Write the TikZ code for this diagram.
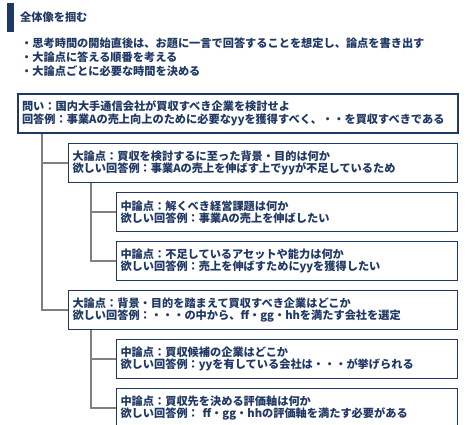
\documentclass[tikz,border=0pt]{standalone}
\usepackage{xcolor}
\usepackage{fontspec}
\setmainfont{Noto Sans CJK JP}
\usepackage{tikz}
\usetikzlibrary{positioning,calc}
\definecolor{navy}{RGB}{31,56,100}
\definecolor{linegray}{RGB}{128,128,128}
\tikzset{
	textline/.style =
    {
			anchor = west,
			inner sep = 0pt,
			text = navy,
			font = \fontsize{11.2pt}{14pt}\selectfont\bfseries
    }
}

\begin{document}
\begin{tikzpicture}[x=1pt, y=1pt]
        \tikzset{box/.style={draw=navy, line width=1pt, anchor=north west, align=left, text=navy,
            inner xsep=4pt, inner ysep=0pt, minimum height=39pt,
            font=\fontsize{11.2pt}{12.5pt}\selectfont\bfseries}}
        \tikzset{question/.style={box, line width=2pt, text width=432pt}}
        \tikzset{major/.style={box, text width=381pt}}
        \tikzset{minor/.style={box, text width=333pt}}
        \tikzset{branch/.style={draw=linegray, line width=1.5pt}}
        \useasboundingbox (0,0) rectangle (470,-424);

        % Heading
        \fill [navy] (7,-3) rectangle (14,-32);
        \node (heading) [textline] at (20,-17) {全体像を掴む};
        \node (steps) [textline, align=left] at (21,-57)
            {・思考時間の開始直後は、お題に一言で回答することを想定し、論点を書き出す\\
             ・大論点に答える順番を考える\\
             ・大論点ごとに必要な時間を決める};

        % Nodes
        \node (question) [question] at (17,-93)
            {問い：国内大手通信会社が買収すべき企業を検討せよ\\
             回答例：事業Aの売上向上のために必要なyyを獲得すべく、・・を買収すべきである};
        \node (major_bg) [major, below right=9pt and 51pt of question.south west]
            {大論点：買収を検討するに至った背景・目的は何か\\
             欲しい回答例：事業Aの売上を伸ばす上でyyが不足しているため};
        \node (minor_issue) [minor, below right=9pt and 48pt of major_bg.south west]
            {中論点：解くべき経営課題は何か\\
             欲しい回答例：事業Aの売上を伸ばしたい};
        \node (minor_asset) [minor, below right=9pt and 0pt of minor_issue.south west]
            {中論点：不足しているアセットや能力は何か\\
             欲しい回答例：売上を伸ばすためにyyを獲得したい};
        \node (major_target) [major, below right=9pt and -48pt of minor_asset.south west]
            {大論点：背景・目的を踏まえて買収すべき企業はどこか\\
             欲しい回答例：・・・の中から、ff・gg・hhを満たす会社を選定};
        \node (minor_cand) [minor, below right=9pt and 48pt of major_target.south west]
            {中論点：買収候補の企業はどこか\\
             欲しい回答例：yyを有している会社は・・・が挙げられる};
        \node (minor_axis) [minor, below right=9pt and 0pt of minor_cand.south west]
            {中論点：買収先を決める評価軸は何か\\
             欲しい回答例： ff・gg・hhの評価軸を満たす必要がある};

        % Lines
        \draw [branch] (question.south west) ++(25pt,0) |- (major_target.west);
        \draw [branch] (question.south west) ++(25pt,0) |- (major_bg.west);
        \draw [branch] (major_bg.south west) ++(23pt,0) |- (minor_asset.west);
        \draw [branch] (major_bg.south west) ++(23pt,0) |- (minor_issue.west);
        \draw [branch] (major_target.south west) ++(23pt,0) |- (minor_axis.west);
        \draw [branch] (major_target.south west) ++(23pt,0) |- (minor_cand.west);
    \end{tikzpicture}
\end{document}
